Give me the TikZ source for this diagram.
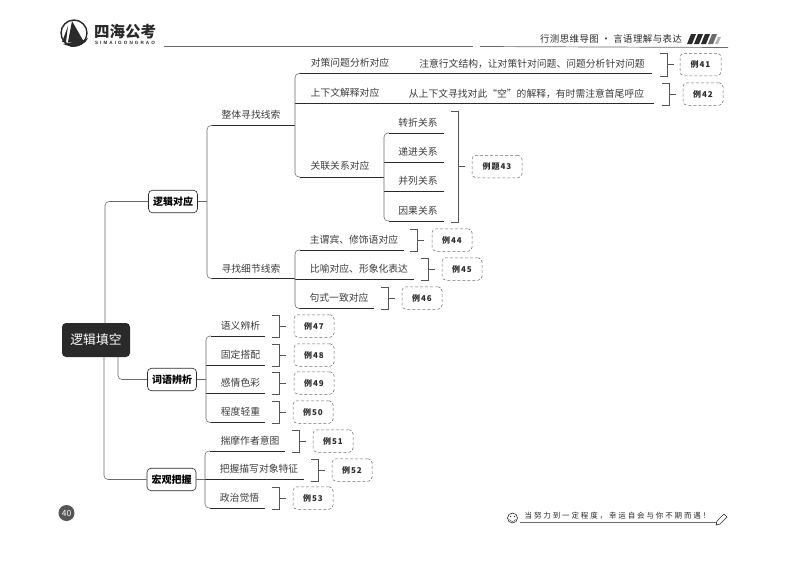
\documentclass[tikz,border=0pt]{standalone}
\usepackage{fontspec}
\setmainfont{Noto Sans CJK SC}
\newfontfamily\spaced[LetterSpace=12]{Noto Sans CJK SC}
\newfontfamily\headf[LetterSpace=5]{Noto Sans CJK SC}
\newfontfamily\hand[LetterSpace=25]{Noto Sans CJK SC}
\newfontfamily\latin[LetterSpace=45]{Liberation Sans}
\definecolor{ink}{HTML}{2A2A2A}
\definecolor{soft}{HTML}{6A6A6A}
\definecolor{txt}{HTML}{3C3C3C}
\tikzset{
  x=1pt,y=-1pt,
  lab/.style={font=\fontsize{9.8}{10}\selectfont,text=txt,inner sep=0pt,anchor=center},
  ul/.style={ink,line width=.8pt},
  trunk/.style={soft,line width=.55pt,rounded corners=4pt},
  brk/.style={ink!80,line width=.45pt},
  branchbox/.style={draw=ink,line width=.6pt,rounded corners=4pt,minimum width=49pt,minimum height=22.5pt,inner sep=0pt,font=\fontsize{10}{10}\selectfont\bfseries,text=black},
  exbox/.style={draw=soft,line width=.5pt,densely dashed,rounded corners=4pt,minimum height=22.5pt,inner sep=0pt,font=\spaced\fontsize{8}{8}\selectfont\bfseries,text=ink},
}
% \exbr{name}{label}{bracket x}{top y}{bottom y}{box left}{box right}
\newcommand\exbr[7]{%
  \pgfmathsetmacro\bxa{#3}\pgfmathsetmacro\bxb{#3+7}\pgfmathsetmacro\bxc{#3+14}%
  \pgfmathsetmacro\bym{(#4+#5)/2}\pgfmathsetmacro\bxm{(#6+#7)/2}\pgfmathsetmacro\bw{#7-#6}%
  \node[exbox,minimum width=\bw pt] (#1) at (\bxm,\bym) {#2};
  \coordinate (#1t) at (\bxa,#4);
  \coordinate (#1u) at (\bxb,#4);
  \coordinate (#1v) at (\bxb,#5);
  \coordinate (#1b) at (\bxa,#5);
  \coordinate (#1m) at (\bxb,\bym);
  \coordinate (#1n) at (\bxc,\bym);
  \draw[brk] (#1t) -- (#1u) -- (#1v) -- (#1b);
  \draw[brk] (#1m) -- (#1n);
}
% \under{coordinate name}{start x}{y}{end x}
\newcommand\under[4]{%
  \coordinate (#1s) at (#2,#3);
  \coordinate (#1e) at (#4,#3);
  \draw[ul] (#1s) -- (#1e);
}
\begin{document}
\begin{tikzpicture}
\useasboundingbox (0,0) rectangle (800,566);
\fill[white] (0,0) rectangle (800,566);

% header
\node[draw=ink,line width=1.4pt,circle,minimum size=26pt,inner sep=0pt] (logo) at (74,33) {};
\fill[ink] (72,21) -- (84,42) -- (68,42) -- cycle;
\fill[ink] (68,26) -- (66,42) -- (62,42) -- cycle;
\fill[ink] (63,44) .. controls (72,41) and (80,43) .. (88,38) .. controls (86,44) and (78,47) .. (72,47) -- cycle;
\node[inner sep=0pt,font=\fontsize{15.5}{16}\selectfont\bfseries,text=ink] (brand) at (125,32) {四海公考};
\node[inner sep=0pt,font=\latin\fontsize{4.6}{5}\selectfont\bfseries,text=ink] (brandl) at (125,42.5) {SIMAIGONGRAO};
\coordinate (h1) at (164,46.5); \coordinate (h2) at (473,46.5);
\coordinate (h3) at (480,46.5); \coordinate (h4) at (728,47.5);
\draw[soft,line width=.7pt] (h1) -- (h2);
\draw[soft,line width=.7pt] (h3) -- (h4);
\node[inner sep=0pt,font=\headf\fontsize{9.4}{10}\selectfont,text=ink] (title) at (611,39) {行测思维导图 · 言语理解与表达};
\fill[ink] (687,44) -- (691,34) -- (696,34) -- (692,44) -- cycle;
\fill[ink] (694,44) -- (698,34) -- (703,34) -- (699,44) -- cycle;
\fill[ink] (701,44) -- (705,34) -- (710,34) -- (706,44) -- cycle;
\fill[soft] (708,44) -- (712,34) -- (717,34) -- (713,44) -- cycle;
\fill[soft!50] (715,44) -- (718,37) -- (721,37) -- (718,44) -- cycle;

% root and branches
\node[fill=ink,rounded corners=4pt,minimum width=68pt,minimum height=34pt,inner sep=0pt,text=white,font=\fontsize{12.8}{13}\selectfont] (root) at (96,340) {逻辑填空};
\node[branchbox] (b1) at (173,201.5) {逻辑对应};
\node[branchbox] (b2) at (172,379.5) {词语辨析};
\node[branchbox] (b3) at (171.5,479.5) {宏观把握};
\coordinate (r1) at (105,201.5); \coordinate (r1a) at (105,323);
\coordinate (r2) at (118,379.5); \coordinate (r2a) at (118,357);
\coordinate (r3) at (104,479.5); \coordinate (r3a) at (104,357);
\draw[trunk] (r1a) -- (r1) -- (b1.west);
\draw[trunk] (r2a) -- (r2) -- (b2.west);
\draw[trunk] (r3a) -- (r3) -- (b3.west);

% logical correspondence, level 2
\node[lab] (n1) at (251,114.5) {整体寻找线索};
\node[lab] (n2) at (251,268.5) {寻找细节线索};
\under{u1}{212}{125.5}{295}
\under{u2}{212}{278.5}{295}
\coordinate (t1a) at (207,125.5); \coordinate (t1b) at (207,278.5); \coordinate (t1m) at (207,201.5);
\draw[trunk] (u1s) -- (t1a) -- (t1b) -- (u2s);
\draw[trunk,rounded corners=0pt] (b1.east) -- (t1m);

% level 3 upper
\node[lab] (a1) at (350,62.5) {对策问题分析对应};
\node[lab] (a2) at (345,92.5) {上下文解释对应};
\node[lab] (a3) at (340,166) {关联关系对应};
\node[lab] (a1n) at (532,63.5) {注意行文结构，让对策针对问题、问题分析针对问题};
\node[lab] (a2n) at (526.5,93.5) {从上下文寻找对此“空”的解释，有时需注意首尾呼应};
\under{ua1}{300}{73.5}{652}
\under{ua2}{295}{103.5}{654}
\under{ua3}{300}{177}{384}
\coordinate (t2a) at (295,73.5); \coordinate (t2b) at (295,177);
\draw[trunk] (ua1s) -- (t2a) -- (t2b) -- (ua3s);

% relations
\node[lab] (c1) at (418,122.5) {转折关系};
\node[lab] (c2) at (418,152) {递进关系};
\node[lab] (c3) at (418,181) {并列关系};
\node[lab] (c4) at (418,210.5) {因果关系};
\under{uc1}{389}{133}{444}
\under{uc2}{384}{162.5}{444}
\under{uc3}{384}{191.5}{444}
\under{uc4}{389}{221}{444}
\coordinate (t3a) at (384,133); \coordinate (t3b) at (384,221);
\draw[trunk] (uc1s) -- (t3a) -- (t3b) -- (uc4s);

% level 3 lower
\node[lab] (d1) at (354,239.5) {主谓宾、修饰语对应};
\node[lab] (d2) at (359,268.5) {比喻对应、形象化表达};
\node[lab] (d3) at (339,297.5) {句式一致对应};
\under{ud1}{300}{250}{404}
\under{ud2}{295}{279}{414}
\under{ud3}{300}{308.5}{374}
\coordinate (t4a) at (295,250); \coordinate (t4b) at (295,308.5);
\draw[trunk] (ud1s) -- (t4a) -- (t4b) -- (ud3s);

% word discrimination
\node[lab] (e1) at (240.5,325.5) {语义辨析};
\node[lab] (e2) at (240.5,354.5) {固定搭配};
\node[lab] (e3) at (240.5,383) {感情色彩};
\node[lab] (e4) at (240.5,412) {程度轻重};
\under{ue1}{211}{336}{265}
\under{ue2}{206}{365}{265}
\under{ue3}{206}{393.5}{265}
\under{ue4}{211}{422.5}{265}
\coordinate (t5a) at (206,336); \coordinate (t5b) at (206,422.5); \coordinate (t5m) at (206,379.5);
\draw[trunk] (ue1s) -- (t5a) -- (t5b) -- (ue4s);
\draw[trunk] (b2.east) -- (t5m);

% overall grasp
\node[lab] (f1) at (250,440.5) {揣摩作者意图};
\node[lab] (f2) at (259,469) {把握描写对象特征};
\node[lab] (f3) at (239.5,497.5) {政治觉悟};
\under{uf1}{210}{451}{285}
\under{uf2}{205}{479.5}{304}
\under{uf3}{210}{508}{265}
\coordinate (t6a) at (205,451); \coordinate (t6b) at (205,508);
\draw[trunk] (uf1s) -- (t6a) -- (t6b) -- (uf3s);
\draw[trunk,rounded corners=0pt] (b3.east) -- (uf2s);

% examples
\exbr{x41}{例41}{660}{53}{76}{680}{721}
\exbr{x42}{例42}{662}{83}{105}{683}{723}
\exbr{x43}{例题43}{451}{111}{222}{472}{522}
\exbr{x44}{例44}{410}{229}{251}{432}{472}
\exbr{x45}{例45}{421}{258}{280}{442}{482}
\exbr{x46}{例46}{381}{287}{309}{402}{442}
\exbr{x47}{例47}{272}{315}{337}{294}{334}
\exbr{x48}{例48}{272}{344}{366}{294}{334}
\exbr{x49}{例49}{272}{372}{394}{294}{334}
\exbr{x50}{例50}{272}{401}{423}{293}{333}
\exbr{x51}{例51}{292}{430}{452}{313}{353}
\exbr{x52}{例52}{311}{459}{481}{332}{372}
\exbr{x53}{例53}{272}{487}{509}{293}{333}

% page number
\node[circle,fill=soft!80!black,minimum size=16pt,inner sep=0pt,text=white,font=\fontsize{8.5}{9}\selectfont] (page) at (66.5,513) {40};

% footer
\node[inner sep=0pt,font=\hand\fontsize{7.5}{8}\selectfont,text=ink] (motto) at (617.5,515.5) {当努力到一定程度，幸运自会与你不期而遇！};
\coordinate (m1) at (520,522); \coordinate (m2) at (717,522);
\draw[soft,line width=.6pt] (m1) -- (m2);
\node[circle,draw=ink,line width=.6pt,minimum size=10pt,inner sep=0pt] (smile) at (512.5,518) {};
\draw[ink,line width=.4pt] (509.5,519.5) .. controls (511,522) and (514,522) .. (515.5,519.5);
\fill[ink] (510.5,516.5) circle (.6pt) (514.5,516.5) circle (.6pt);
\draw[ink,line width=.6pt,fill=white] (717,521) -- (724,514) -- (727,517) -- (720,524) -- (716,525) -- cycle;
\end{tikzpicture}
\end{document}
